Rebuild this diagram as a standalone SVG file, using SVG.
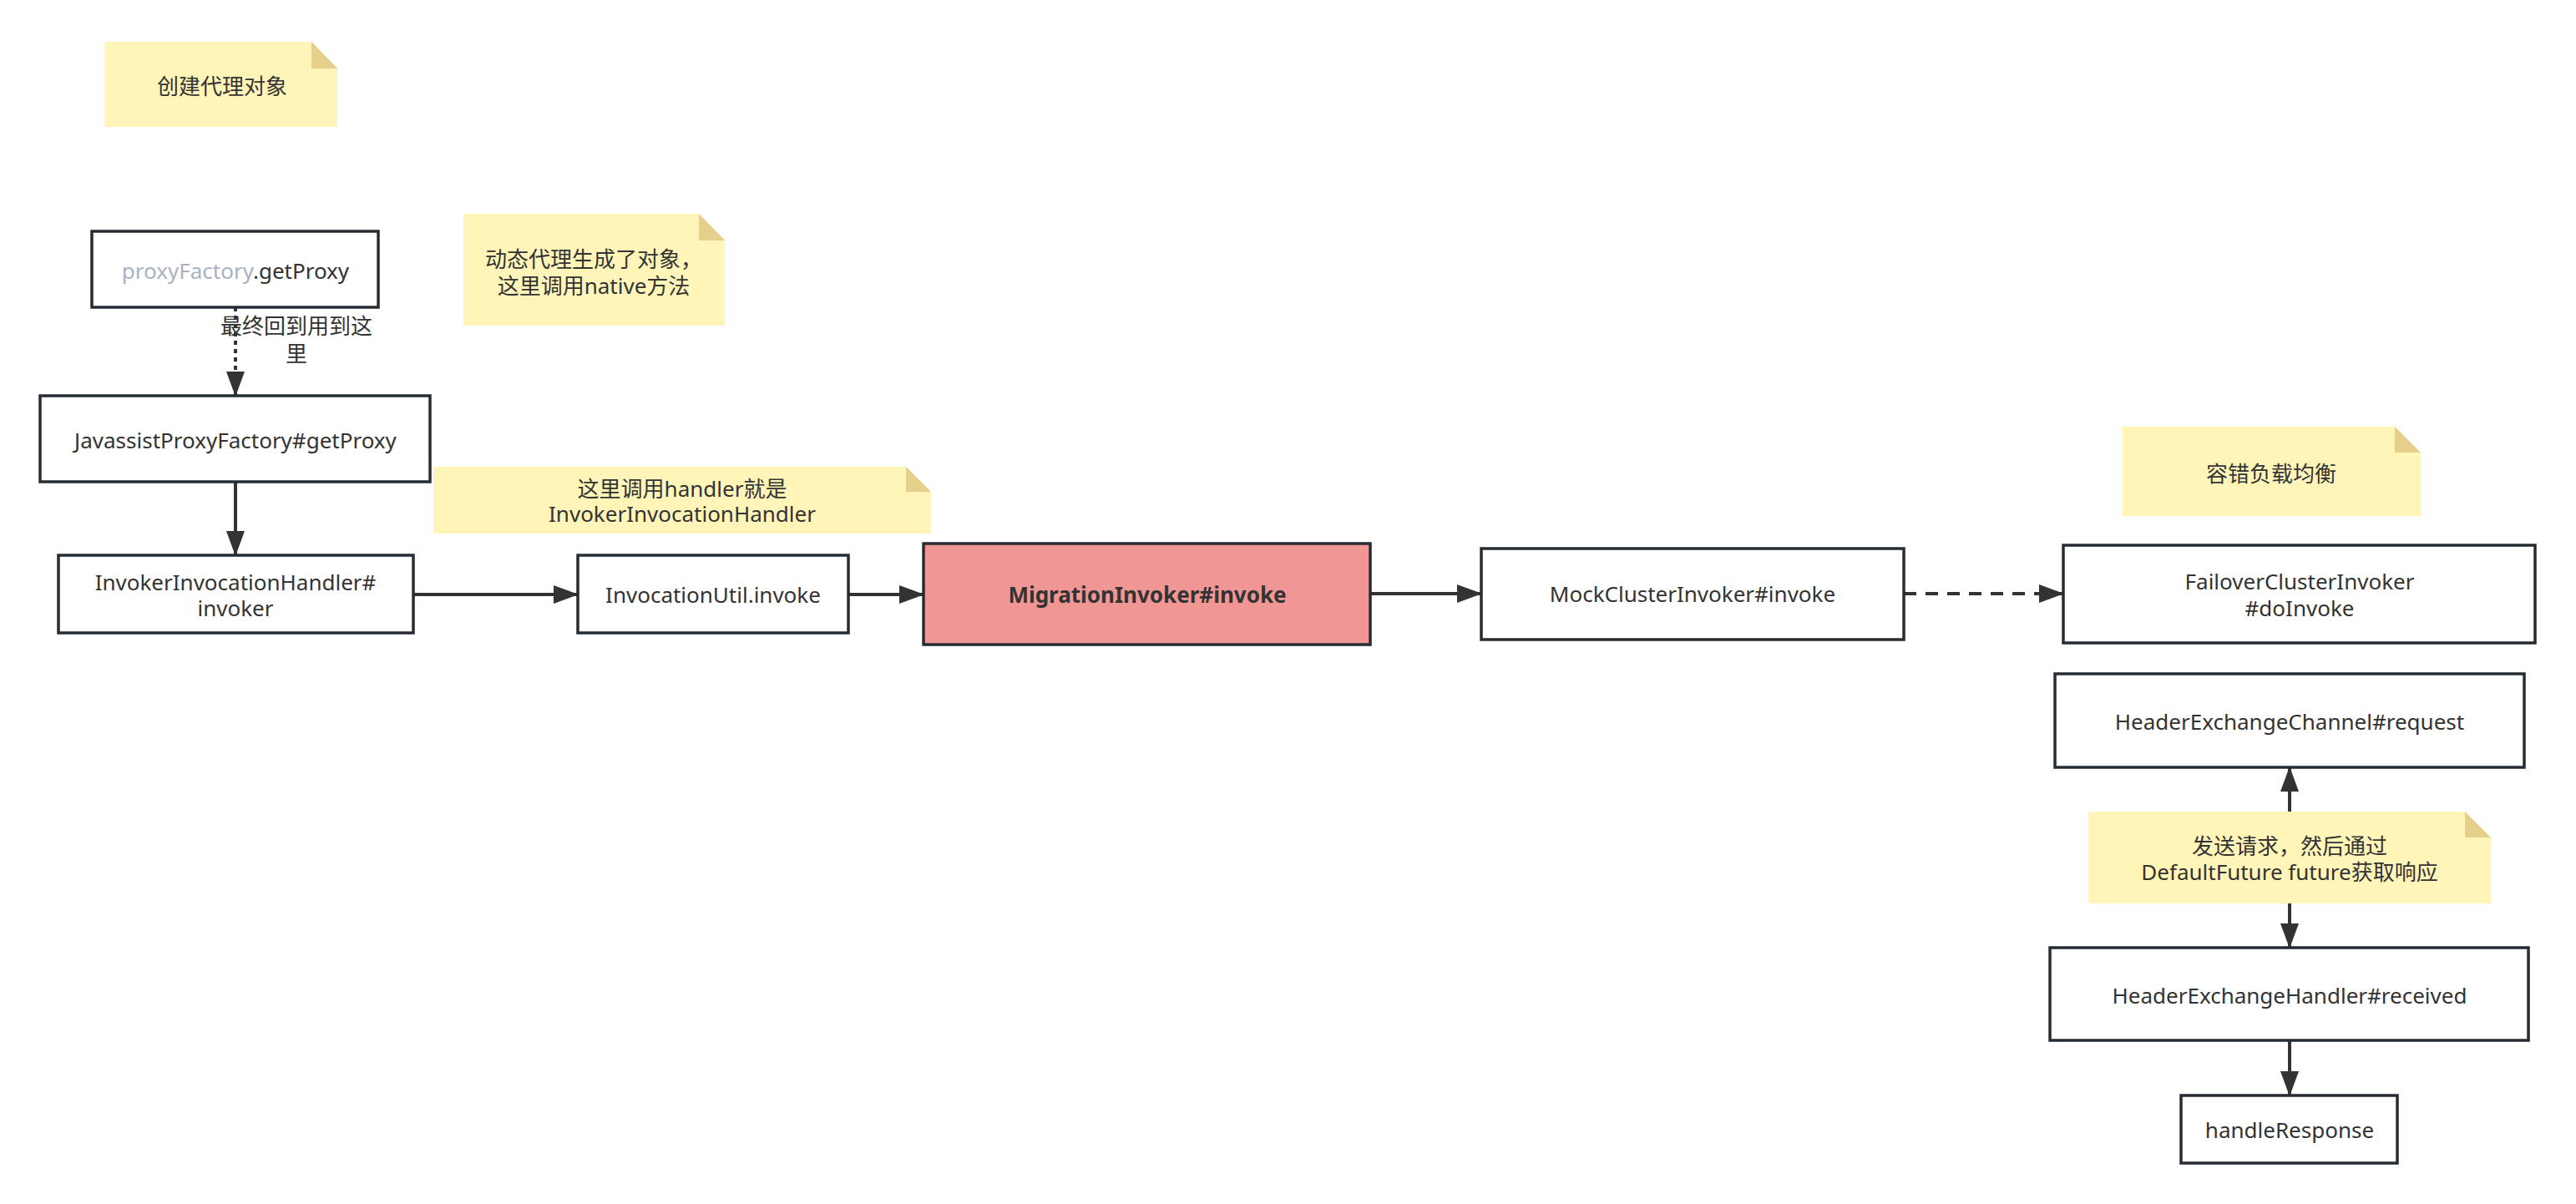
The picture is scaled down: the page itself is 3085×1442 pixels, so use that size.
<svg xmlns="http://www.w3.org/2000/svg" width="3085" height="1442" viewBox="0 0 3085 1442">
<style>
  .box { fill: #ffffff; stroke: #262c33; stroke-width: 3.5; }
  .hot { fill: #f09694; stroke: #262c33; stroke-width: 3.5; }
  .note { fill: #fff5b9; }
  .fold { fill: #e5cf8b; }
  .t { font-family: "Noto Sans", "Noto Sans CJK SC", sans-serif; font-size: 26px; fill: #333333; text-anchor: middle; dominant-baseline: central; }
  .b { font-weight: bold; }
  .muted { fill: #a9b2c3; }
  .edge { stroke: #333333; stroke-width: 4; fill: none; }
</style>
<defs>
  <marker id="arr" markerUnits="userSpaceOnUse" markerWidth="30" markerHeight="22" refX="29" refY="11" orient="auto-start-reverse">
    <path d="M0,0 L30,11 L0,22 Z" fill="#333333"/>
  </marker>
</defs>
<rect width="3085" height="1442" fill="#ffffff"/>

<g id="connectors">
  <line class="edge" x1="282" y1="368" x2="282" y2="474" stroke-dasharray="5 5" marker-end="url(#arr)"/>
  <line class="edge" x1="282" y1="577" x2="282" y2="665" marker-end="url(#arr)"/>
  <line class="edge" x1="495" y1="712" x2="692" y2="712" marker-end="url(#arr)"/>
  <line class="edge" x1="1016" y1="712" x2="1106" y2="712" marker-end="url(#arr)"/>
  <line class="edge" x1="1641" y1="711" x2="1774" y2="711" marker-end="url(#arr)"/>
  <line class="edge" x1="2280" y1="711" x2="2471" y2="711" stroke-dasharray="15 11" marker-end="url(#arr)"/>
  <line class="edge" x1="2742" y1="919" x2="2742" y2="1135" marker-start="url(#arr)" marker-end="url(#arr)"/>
  <line class="edge" x1="2742" y1="1246" x2="2742" y2="1312" marker-end="url(#arr)"/>
  <text class="t" x="355" y="390">最终回到用到这</text>
  <text class="t" x="355" y="423">里</text>
</g>

<g id="note-create">
  <polygon class="note" points="125,50 373,50 404,82 404,152 125,152"/>
  <polygon class="fold" points="373,50 373,82 404,82"/>
  <text class="t" x="266" y="103">创建代理对象</text>
</g>

<g id="node-proxyFactory">
  <rect class="box" x="110" y="277" width="343" height="91"/>
  <text class="t" x="282" y="324"><tspan class="muted">proxyFactory</tspan>.getProxy</text>
</g>

<g id="node-javassist">
  <rect class="box" x="48" y="474" width="467" height="103"/>
  <text class="t" x="282" y="527">JavassistProxyFactory#getProxy</text>
</g>

<g id="note-dynamic">
  <polygon class="note" points="555,256 837,256 868,288 868,390 555,390"/>
  <polygon class="fold" points="837,256 837,288 868,288"/>
  <text class="t" x="711" y="310">动态代理生成了对象，</text>
  <text class="t" x="711" y="342">这里调用native方法</text>
</g>

<g id="note-handler">
  <polygon class="note" points="519,559 1085,559 1115,589 1115,639 519,639"/>
  <polygon class="fold" points="1085,559 1085,589 1115,589"/>
  <text class="t" x="817" y="585">这里调用handler就是</text>
  <text class="t" x="817" y="615">InvokerInvocationHandler</text>
</g>

<g id="node-iih">
  <rect class="box" x="70" y="665" width="425" height="93"/>
  <text class="t" x="282" y="697">InvokerInvocationHandler#</text>
  <text class="t" x="282" y="728">invoker</text>
</g>

<g id="node-invocationutil">
  <rect class="box" x="692" y="665" width="324" height="93"/>
  <text class="t" x="854" y="712">InvocationUtil.invoke</text>
</g>

<g id="node-migration">
  <rect class="hot" x="1106" y="651" width="535" height="121"/>
  <text class="t b" x="1374" y="712">MigrationInvoker#invoke</text>
</g>

<g id="node-mock">
  <rect class="box" x="1774" y="657" width="506" height="109"/>
  <text class="t" x="2027" y="711">MockClusterInvoker#invoke</text>
</g>

<g id="note-cluster">
  <polygon class="note" points="2542,511 2868,511 2899,542 2899,618 2542,618"/>
  <polygon class="fold" points="2868,511 2868,542 2899,542"/>
  <text class="t" x="2720" y="567">容错负载均衡</text>
</g>

<g id="node-failover">
  <rect class="box" x="2471" y="653" width="565" height="117"/>
  <text class="t" x="2754" y="696">FailoverClusterInvoker</text>
  <text class="t" x="2754" y="728">#doInvoke</text>
</g>

<g id="node-request">
  <rect class="box" x="2461" y="807" width="562" height="112"/>
  <text class="t" x="2742" y="864">HeaderExchangeChannel#request</text>
</g>

<g id="note-future">
  <polygon class="note" points="2501,972 2952,972 2983,1003 2983,1082 2501,1082"/>
  <polygon class="fold" points="2952,972 2952,1003 2983,1003"/>
  <text class="t" x="2742" y="1013">发送请求，然后通过</text>
  <text class="t" x="2742" y="1044">DefaultFuture future获取响应</text>
</g>

<g id="node-received">
  <rect class="box" x="2455" y="1135" width="573" height="111"/>
  <text class="t" x="2742" y="1192">HeaderExchangeHandler#received</text>
</g>

<g id="node-handleResponse">
  <rect class="box" x="2612" y="1312" width="259" height="81"/>
  <text class="t" x="2742" y="1353">handleResponse</text>
</g>
</svg>
